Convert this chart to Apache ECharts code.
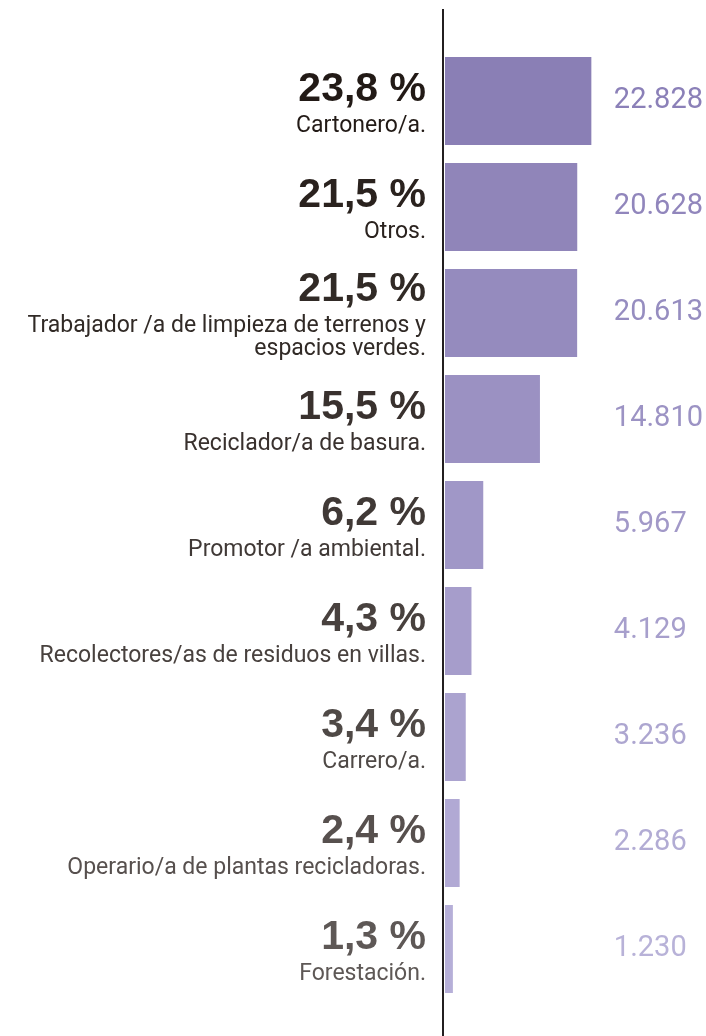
<!DOCTYPE html>
<html>
<head>
<meta charset="utf-8">
<title>Ocupaciones</title>
<script src="https://cdn.jsdelivr.net/npm/echarts@6/dist/echarts.min.js"></script>
<style>
  html, body { margin: 0; padding: 0; background: #ffffff; }
  #chart { width: 706px; height: 1036px; }
</style>
</head>
<body>
<div id="chart"></div>
<script>
// datos del gráfico
var ocupaciones = [
    'Cartonero/a.',
    'Otros.',
    'Trabajador /a de limpieza de terrenos y\nespacios verdes.',
    'Reciclador/a de basura.',
    'Promotor /a ambiental.',
    'Recolectores/as de residuos en villas.',
    'Carrero/a.',
    'Operario/a de plantas recicladoras.',
    'Forestación.'
];
var porcentajes = ['23,8 %', '21,5 %', '21,5 %', '15,5 %', '6,2 %', '4,3 %', '3,4 %', '2,4 %', '1,3 %'];
var cantidades = [22828, 20628, 20613, 14810, 5967, 4129, 3236, 2286, 1230];

// colores: de oscuro (arriba) a claro (abajo)
function mezcla(a, b, t)
{
    var r = Math.round(a[0] + (b[0] - a[0]) * t);
    var g = Math.round(a[1] + (b[1] - a[1]) * t);
    var bl = Math.round(a[2] + (b[2] - a[2]) * t);
    return 'rgb(' + r + ',' + g + ',' + bl + ')';
}
function colorPorIndice(a, b, i)
{
    return mezcla(a, b, i / (cantidades.length - 1));
}
var barraIni = [138, 127, 181], barraFin = [182, 175, 216];
var pctIni = [34, 26, 22], pctFin = [94, 88, 86];
var valIni = [139, 128, 184], valFin = [184, 178, 216];

function formatoMiles(v)
{
    return String(v).replace(/\B(?=(\d{3})+(?!\d))/g, '.');
}

var chart = echarts.init(document.getElementById('chart'));

var richLabels = {};
for (var i = 0; i < cantidades.length; i++)
{
    richLabels['p' + i] = {
        fontFamily: 'Liberation Sans',
        fontWeight: 'bold',
        fontSize: 41,
        lineHeight: 50,
        align: 'right',
        color: colorPorIndice(pctIni, pctFin, i)
    };
    richLabels['n' + i] = {
        fontFamily: 'Roboto',
        fontSize: 23,
        lineHeight: 23,
        align: 'right',
        color: colorPorIndice(pctIni, pctFin, i)
    };
}

var option = {
    animation: false,
    backgroundColor: '#ffffff',
    grid: { left: 445, right: 106, top: 48, height: 954 },
    xAxis: {
        type: 'value',
        min: 0,
        max: 24000,
        show: false
    },
    yAxis: [{
        type: 'category',
        inverse: true,
        data: ocupaciones,
        axisLine: { show: false },
        axisTick: { show: false },
        axisLabel: {
            margin: 19,
            formatter: function(value, idx)
            {
                var lineas = value.split('\n').map(function(l){ return '{n' + idx + '|' + l + '}'; });
                return '{p' + idx + '|' + porcentajes[idx] + '}\n' + lineas.join('\n');
            },
            rich: richLabels
        }
    }, {
        type: 'category',
        inverse: true,
        position: 'right',
        data: cantidades.map(formatoMiles),
        axisLine: { show: false },
        axisTick: { show: false },
        axisLabel: {
            margin: 15,
            align: 'left',
            fontFamily: 'Roboto',
            fontSize: 29,
            color: function(value, idx) { return colorPorIndice(valIni, valFin, idx); }
        }
    }],
    series: [{
        type: 'bar',
        yAxisIndex: 0,
        barWidth: 88,
        data: cantidades.map(function(v, i)
        {
            return { value: v, itemStyle: { color: colorPorIndice(barraIni, barraFin, i) } };
        })
    }],
    graphic: [{
        type: 'line',
        shape: { x1: 443, y1: 9, x2: 443, y2: 1036 },
        style: { stroke: '#231f20', lineWidth: 2 }
    }]
};
chart.setOption(option);
</script>
</body>
</html>
